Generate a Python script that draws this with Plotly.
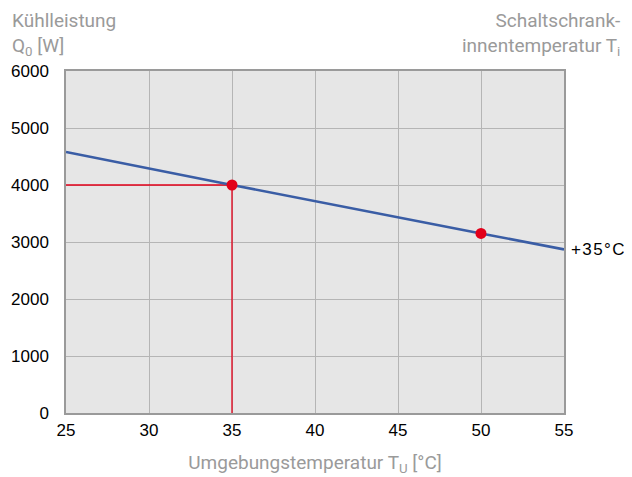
import plotly.graph_objects as go

# Data
ambient_temp = [25, 35, 50, 55]
cooling_power = [4580, 4000, 3150, 2870]
marker_x = [35, 50]
marker_y = [4000, 3150]
ref_x = [25, 35, 35]
ref_y = [4000, 4000, 0]
x_ticks = [25, 30, 35, 40, 45, 50, 55]
y_ticks = [0, 1000, 2000, 3000, 4000, 5000, 6000]
curve_label = "+\u200a3\u200a5\u200a°\u200aC"

gray_font = "Roboto, sans-serif"
gray = "#9a9a9a"

fig = go.Figure()
fig.add_trace(go.Scatter(x=ref_x, y=ref_y, mode="lines",
                         line=dict(color="#e2001a", width=1.3), hoverinfo="skip"))
fig.add_trace(go.Scatter(x=ambient_temp, y=cooling_power, mode="lines",
                         line=dict(color="#3a5da5", width=2.6)))
fig.add_trace(go.Scatter(x=marker_x, y=marker_y, mode="markers",
                         marker=dict(color="#e2001a", size=11)))

fig.update_layout(
    width=624, height=469,
    margin=dict(l=58, r=68, t=63, b=64),
    paper_bgcolor="white",
    plot_bgcolor="#e6e6e6",
    showlegend=False,
    font=dict(family="Liberation Sans, Arial, sans-serif", size=17, color="black"),
)
fig.update_xaxes(range=[25, 55], tickvals=x_ticks, showgrid=True,
                 gridcolor="#b5b5b5", gridwidth=1,
                 showline=True, linecolor="#9a9a9a", linewidth=1.5, mirror=True,
                 zeroline=False, ticks="", ticklabelstandoff=1, automargin=False,
                 title=dict(text="Umgebungstemperatur T<sub>U</sub> [°C]",
                            font=dict(family=gray_font, size=19, color=gray),
                            standoff=17))
fig.update_yaxes(range=[0, 6000], tickvals=y_ticks, showgrid=True,
                 gridcolor="#b5b5b5", gridwidth=1,
                 showline=True, linecolor="#9a9a9a", linewidth=1.5, mirror=True,
                 zeroline=False, ticks="", ticklabelstandoff=12, automargin=False)

fig.add_annotation(x=0, y=1, xref="paper", yref="paper", xanchor="left", yanchor="bottom",
                   xshift=-56, yshift=10, align="left", showarrow=False,
                   text="Kühlleistung<br>Q<sub>0</sub> [W]",
                   font=dict(family=gray_font, size=19, color=gray))
fig.add_annotation(x=1, y=1, xref="paper", yref="paper", xanchor="right", yanchor="bottom",
                   xshift=58, yshift=10, align="right", showarrow=False,
                   text="Schaltschrank-<br>innentemperatur T<sub>i</sub>",
                   font=dict(family=gray_font, size=19, color=gray))
fig.add_annotation(x=ambient_temp[-1], y=cooling_power[-1], xref="x", yref="y",
                   xanchor="left", yanchor="middle", xshift=5, yshift=0, showarrow=False,
                   text=curve_label, font=dict(size=17, color="black"))

fig.write_html("out.html")
